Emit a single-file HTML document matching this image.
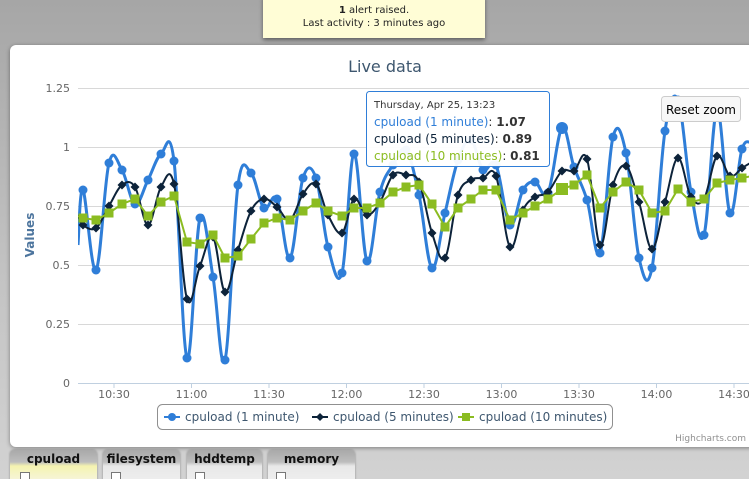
<!DOCTYPE html>
<html><head><meta charset="utf-8"><style>
html,body{margin:0;padding:0;width:749px;height:479px;overflow:hidden;font-family:"DejaVu Sans","Liberation Sans",sans-serif;}
body{background:linear-gradient(#a6a6a6,#c4c4c4 60%,#d2d2d2);position:relative;}
.alert{position:absolute;left:263px;top:-4px;width:222px;height:42px;background:#fffdd6;box-shadow:0 2px 4px rgba(0,0,0,.45);font-size:10px;text-align:center;line-height:13px;color:#222;}
.alert div:first-child{margin-top:8px;}
.panel{position:absolute;left:10px;top:45px;width:750px;height:402px;background:#fff;border-radius:6px;box-shadow:0 1px 4px rgba(0,0,0,.4);}
.tab{position:absolute;top:450px;height:40px;border-radius:4px 4px 0 0;background:linear-gradient(#a9a9a9,#bdbdbd 12px,#e8e8e8 16px,#f2f2f2);box-shadow:0 0 2px rgba(0,0,0,.35);font-size:12px;font-weight:bold;text-align:center;color:#111;}
.tab span{display:block;line-height:18px;}
.cb{position:absolute;top:22px;width:8px;height:8px;border:1px solid #777;background:#fff;}
</style></head><body>
<div class="alert"><div><b>1</b> alert raised.</div><div>Last activity : 3 minutes ago</div></div>
<div class="panel"></div>
<svg id="s" width="749" height="479" style="position:absolute;left:0;top:0" font-family="DejaVu Sans, Liberation Sans, sans-serif">
<text x="385" y="72" text-anchor="middle" font-size="16" fill="#3e576f">Live data</text>
<g stroke="#d8d8d8" stroke-width="1">
<line x1="78" x2="749" y1="88.5" y2="88.5"/><line x1="78" x2="749" y1="147.5" y2="147.5"/><line x1="78" x2="749" y1="206.5" y2="206.5"/><line x1="78" x2="749" y1="265.5" y2="265.5"/><line x1="78" x2="749" y1="324.5" y2="324.5"/>
<line x1="78" x2="749" y1="383.5" y2="383.5" stroke="#c0d0e0"/>
</g>
<g font-size="11" fill="#666" text-anchor="end">
<text x="70" y="92">1.25</text><text x="70" y="151">1</text><text x="70" y="210">0.75</text><text x="70" y="269">0.5</text><text x="70" y="328">0.25</text><text x="70" y="387">0</text>
</g>
<text transform="translate(34,235) rotate(-90)" text-anchor="middle" font-size="12" font-weight="bold" fill="#4d759e">Values</text>
<g id="xt" font-size="11" fill="#666" text-anchor="middle"></g>
<g id="series"></g>
<rect x="157.5" y="404.5" width="455" height="25" rx="5" fill="#fff" stroke="#909090"/>
<g font-size="12" fill="#3e576f">
<line x1="164" x2="180" y1="417" y2="417" stroke="#2f7ed8" stroke-width="2"/><circle cx="172" cy="417" r="4" fill="#2f7ed8"/>
<text x="185" y="421">cpuload (1 minute)</text>
<line x1="312" x2="328" y1="417" y2="417" stroke="#0d233a" stroke-width="2"/><path d="M320 413 L324 417 L320 421 L316 417Z" fill="#0d233a"/>
<text x="333" y="421">cpuload (5 minutes)</text>
<line x1="458" x2="474" y1="417" y2="417" stroke="#8bbc21" stroke-width="2"/><rect x="462" y="413" width="8" height="8" fill="#8bbc21"/>
<text x="479" y="421">cpuload (10 minutes)</text>
</g>
<text x="746" y="441" text-anchor="end" font-size="9" fill="#909090">Highcharts.com</text>
<rect x="366.5" y="91.5" width="183" height="75" rx="3" fill="#fff" fill-opacity="0.95" stroke="#2f7ed8"/>
<text x="374" y="108" font-size="10" fill="#333">Thursday, Apr 25, 13:23</text>
<text x="374" y="126" font-size="12" fill="#2f7ed8">cpuload (1 minute)<tspan fill="#333">: </tspan><tspan fill="#333" font-weight="bold">1.07</tspan></text>
<text x="374" y="143" font-size="12" fill="#0d233a">cpuload (5 minutes)<tspan fill="#333">: </tspan><tspan fill="#333" font-weight="bold">0.89</tspan></text>
<text x="374" y="160" font-size="12" fill="#8bbc21">cpuload (10 minutes)<tspan fill="#333">: </tspan><tspan fill="#333" font-weight="bold">0.81</tspan></text>
<rect x="661.5" y="96.5" width="79" height="25" rx="3" fill="#f7f7f7" stroke="#cccccc"/>
<text x="701" y="114" text-anchor="middle" font-size="12" fill="#000">Reset zoom</text>
</svg>
<div class="tab" style="left:10px;width:87px;background:linear-gradient(#a9a9a9,#bdbdbd 12px,#f5f3b0 16px,#f6f6f6);"><span>cpuload</span><div class="cb" style="left:10px"></div></div>
<div class="tab" style="left:103px;width:77px"><span>filesystem</span><div class="cb" style="left:8px"></div></div>
<div class="tab" style="left:187px;width:75px"><span>hddtemp</span><div class="cb" style="left:8px"></div></div>
<div class="tab" style="left:268px;width:87px"><span>memory</span><div class="cb" style="left:8px"></div></div>
<script>
var NS="http://www.w3.org/2000/svg";
var xt=document.getElementById('xt');
var labs=["10:30","11:00","11:30","12:00","12:30","13:00","13:30","14:00","14:30"];
labs.forEach(function(l,i){var x=114+77.5*i;var t=document.createElementNS(NS,'text');t.setAttribute('x',x);t.setAttribute('y',398);t.textContent=l;xt.appendChild(t);
var ln=document.createElementNS(NS,'line');ln.setAttribute('x1',x);ln.setAttribute('x2',x);ln.setAttribute('y1',383);ln.setAttribute('y2',388);ln.setAttribute('stroke','#c0d0e0');xt.appendChild(ln);});
var X=[83,96,109,122,135,148,161,174,187,200,213,225,238,251,264,277,290,303,316,328,342,354,367,380,393,406,419,432,445,458,471,483,496,510,523,535,548,562,574,587,600,613,626,639,652,665,678,691,704,717,730,742];
var B=[190,270,163,170,204,180,154,161,358,218,277,360,185,173,208,199,258,178,178,247,273,154,261,192,165,150,195,268,213,160,140,170,165,225,190,182,193,128,167,200,253,137,153,258,268,131,100,192,235,110,213,149];
var K=[225,228,206,185,187,225,187,184,299,266,237,292,250,211,199,207,220,194,184,215,233,199,215,202,175,175,182,233,258,195,180,178,176,247,210,197,192,171,171,159,245,185,166,202,249,202,158,197,199,156,176,168];
var G=[218,220,213,204,199,216,202,196,242,244,235,258,256,239,223,218,220,211,203,211,216,208,208,203,192,187,185,204,227,208,199,190,190,220,213,206,199,189,185,175,208,192,182,190,213,211,189,202,199,183,180,178];
function path(Y,x0,y0){var P=[[x0,y0]];for(var i=0;i<X.length;i++)P.push([X[i],Y[i]]);P.push([752,Y[Y.length-1]-6]);
var d="M"+P[0][0]+" "+P[0][1];for(var i=0;i<P.length-1;i++){var p0=P[i-1]||P[i],p1=P[i],p2=P[i+1],p3=P[i+2]||p2;var t=0.18;
d+=" C"+(p1[0]+(p2[0]-p0[0])*t)+" "+(p1[1]+(p2[1]-p0[1])*t)+" "+(p2[0]-(p3[0]-p1[0])*t)+" "+(p2[1]-(p3[1]-p1[1])*t)+" "+p2[0]+" "+p2[1];}return d;}
function lin(Y,x0,y0){var d="M"+x0+" "+y0;for(var i=0;i<X.length;i++)d+=" L"+X[i]+" "+Y[i];return d+" L752 "+(Y[Y.length-1]-2);}
var g=document.getElementById('series');var h="<defs><clipPath id='c'><rect x='78' y='80' width='671' height='304'/></clipPath></defs><g clip-path='url(#c)'>";
h+="<path d='"+path(B,78,245)+"' fill='none' stroke='#2f7ed8' stroke-width='3'/>";
B.forEach(function(y,i){h+="<circle cx='"+X[i]+"' cy='"+y+"' r='"+(X[i]==562?6:4.5)+"' fill='#2f7ed8'/>";});
h+="<path d='"+path(K,78,215)+"' fill='none' stroke='#0d233a' stroke-width='2'/>";
K.forEach(function(y,i){var x=X[i];h+="<path d='M"+x+" "+(y-4.5)+" L"+(x+4.5)+" "+y+" L"+x+" "+(y+4.5)+" L"+(x-4.5)+" "+y+"Z' fill='#0d233a'/>";});
h+="<path d='"+lin(G,78,216)+"' fill='none' stroke='#8bbc21' stroke-width='2'/>";
G.forEach(function(y,i){var s=(X[i]==562?6:4.5);h+="<rect x='"+(X[i]-s)+"' y='"+(y-s)+"' width='"+2*s+"' height='"+2*s+"' fill='#8bbc21'/>";});
h+="</g>";g.innerHTML=h;
</script>
</body></html>
